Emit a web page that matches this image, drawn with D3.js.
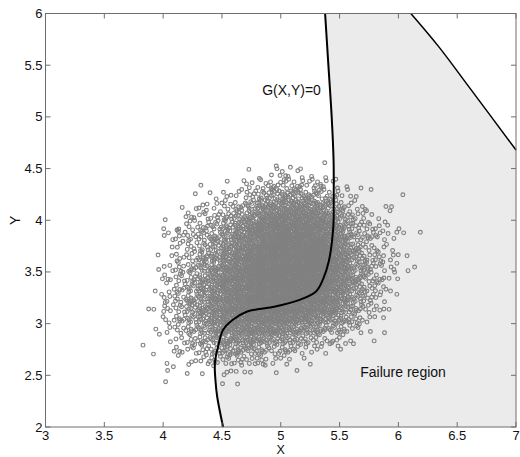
<!DOCTYPE html>
<html lang="en">
<head>
  <meta charset="UTF-8">
  <title>Limit state and Monte Carlo samples</title>
  <script src="https://d3js.org/d3.v7.min.js"></script>
  <style>
    html, body { margin: 0; background: #fff; }
    svg { display: block; font-family: "Liberation Sans", Arial, sans-serif; }
  </style>
</head>
<body>
  <svg id="chart" width="520" height="457"></svg>
  <script>
    // axis ticks
    const xTicks = [3, 3.5, 4, 4.5, 5, 5.5, 6, 6.5, 7];
    const yTicks = [2, 2.5, 3, 3.5, 4, 4.5, 5, 5.5, 6];

    // limit state curve G(X,Y)=0 (top to bottom)
    const limitX = [5.377, 5.405, 5.433, 5.449, 5.45, 5.447, 5.41, 5.36, 5.30, 5.16, 4.93, 4.71, 4.59, 4.51, 4.47, 4.44, 4.445, 4.46, 4.51];
    const limitY = [6.00, 5.50, 5.00, 4.58, 4.20, 3.94, 3.61, 3.43, 3.31, 3.23, 3.16, 3.115, 3.035, 2.94, 2.79, 2.62, 2.45, 2.29, 2.00];

    // upper right boundary of the failure region
    const edgeX = [6.106, 6.346, 6.60, 7.00];
    const edgeY = [6.00, 5.675, 5.29, 4.68];

    // sample cloud: points per 0.1 x 0.1 cell (base 36), rows top -> bottom
    const cellColsX = [3.85, 3.95, 4.05, 4.15, 4.25, 4.35, 4.45, 4.55, 4.65, 4.75, 4.85, 4.95, 5.05,
                       5.15, 5.25, 5.35, 5.45, 5.55, 5.65, 5.75, 5.85, 5.95, 6.05, 6.15, 6.25];
    const cellRowsY = [4.55, 4.45, 4.35, 4.25, 4.15, 4.05, 3.95, 3.85, 3.75, 3.65, 3.55,
                       3.45, 3.35, 3.25, 3.15, 3.05, 2.95, 2.85, 2.75, 2.65, 2.55, 2.45];
    const cellCounts = [
      "0000000000011001000000000",
      "0000000001133311000000000",
      "0000010113566655311000000",
      "00001113368abba8631100100",
      "000113356adgiigda63111000",
      "00113558adiloomjd85311000",
      "0013568aejorttroib6531100",
      "003568adimruzzurle8653110",
      "001358aejotzzzzzme8531000",
      "01156adimrzzzzzzoib653100",
      "01358bejotzzzzzzoib853110",
      "01368bglquzzzzzzmib853000",
      "0136adglquzzzzzulgb651000",
      "0156adimrzzzzztqjea631000",
      "1156adilqtuutrolid8531000",
      "0136adgjmooomlieda6310000",
      "01358beijjjigeda865110000",
      "011368bdeedba865531100000",
      "1113568aaa866533110000000",
      "0011355665533110000000000",
      "0020111331110100000000000",
      "0010000110000000000000000"
    ];
    // where points sit inside a cell (fraction of the cell)
    const slotU = [0.13, 0.62, 0.87, 0.38, 0.05, 0.74, 0.29, 0.51, 0.94, 0.21, 0.68, 0.45, 0.82, 0.09, 0.57, 0.33, 0.99, 0.18, 0.77, 0.42];
    const slotV = [0.71, 0.24, 0.83, 0.47, 0.18, 0.56, 0.92, 0.07, 0.33, 0.38, 0.97, 0.78, 0.12, 0.52, 0.63, 0.15, 0.66, 0.05, 0.41, 0.30];
    const cellSize = 0.1;

    const svg = d3.select("#chart");
    const x = d3.scaleLinear().domain([3, 7]).range([45.5, 516]);
    const y = d3.scaleLinear().domain([2, 6]).range([427, 13.5]);

    const limitPts = limitX.map((v, i) => [v, limitY[i]]);
    const edgePts = edgeX.map((v, i) => [v, edgeY[i]]);
    const line = d3.line().x(d => x(d[0])).y(d => y(d[1])).curve(d3.curveCatmullRom);

    // failure region
    svg.append("path")
      .attr("d", d3.line().x(d => x(d[0])).y(d => y(d[1])).curve(d3.curveLinearClosed)(
        limitPts.concat([[7, 2]], edgePts.slice().reverse())))
      .attr("fill", "#ebebeb");

    // samples
    const pts = [];
    cellCounts.forEach((row, i) => {
      row.split("").forEach((c, j) => {
        const n = parseInt(c, 36);
        const start = (i * 7 + j * 11) % slotU.length;
        for (let k = 0; k < n; k++) {
          const s = (start + k) % slotU.length;
          const pass = Math.floor(k / slotU.length);
          const u = (slotU[s] + pass * 0.5) % 1;
          const v = (slotV[s] + pass * 0.37) % 1;
          pts.push([cellColsX[j] - cellSize / 2 + cellSize * u,
                    cellRowsY[i] - cellSize / 2 + cellSize * v]);
        }
      });
    });

    svg.append("g").selectAll("circle")
      .data(pts)
      .enter().append("circle")
      .attr("cx", d => x(d[0]))
      .attr("cy", d => y(d[1]))
      .attr("r", 1.9)
      .attr("fill", "none")
      .attr("stroke", "#808080")
      .attr("stroke-width", 1.15);

    // curves
    svg.append("path")
      .attr("d", line(limitPts))
      .attr("fill", "none")
      .attr("stroke", "#000")
      .attr("stroke-width", 2);

    svg.append("path")
      .attr("d", line(edgePts))
      .attr("fill", "none")
      .attr("stroke", "#000")
      .attr("stroke-width", 1.5);

    // box and inward ticks
    const axisColor = "#6e6e6e";
    const tickLen = 5;
    svg.append("rect")
      .attr("x", x(3)).attr("y", y(6))
      .attr("width", x(7) - x(3)).attr("height", y(2) - y(6))
      .attr("fill", "none").attr("stroke", axisColor).attr("stroke-width", 1);

    const ticks = svg.append("g").attr("stroke", axisColor).attr("stroke-width", 1);
    xTicks.forEach(t => {
      ticks.append("line").attr("x1", x(t)).attr("x2", x(t)).attr("y1", y(2)).attr("y2", y(2) - tickLen);
      ticks.append("line").attr("x1", x(t)).attr("x2", x(t)).attr("y1", y(6)).attr("y2", y(6) + tickLen);
    });
    yTicks.forEach(t => {
      ticks.append("line").attr("x1", x(3)).attr("x2", x(3) + tickLen).attr("y1", y(t)).attr("y2", y(t));
      ticks.append("line").attr("x1", x(7)).attr("x2", x(7) - tickLen).attr("y1", y(t)).attr("y2", y(t));
    });

    svg.append("g").selectAll("text")
      .data(xTicks)
      .enter().append("text")
      .attr("x", d => x(d))
      .attr("y", y(2) + 12.5)
      .attr("text-anchor", "middle")
      .attr("font-size", 13)
      .attr("fill", "#111")
      .text(d => d);

    svg.append("g").selectAll("text")
      .data(yTicks)
      .enter().append("text")
      .attr("x", x(3) - 3)
      .attr("y", d => y(d))
      .attr("dy", "0.35em")
      .attr("text-anchor", "end")
      .attr("font-size", 13)
      .attr("fill", "#111")
      .text(d => d);

    // axis labels
    svg.append("text")
      .attr("x", x(5)).attr("y", y(2) + 26.5)
      .attr("text-anchor", "middle").attr("font-size", 12.5).attr("fill", "#111")
      .text("X");
    svg.append("text")
      .attr("transform", `translate(${x(3) - 30},${y(4)}) rotate(-90)`)
      .attr("text-anchor", "middle").attr("dy", "0.35em").attr("font-size", 14).attr("fill", "#111")
      .text("Y");

    // annotations
    svg.append("text")
      .attr("x", x(4.842)).attr("y", y(5.21))
      .attr("font-size", 14).attr("fill", "#111")
      .text("G(X,Y)=0");
    svg.append("text")
      .attr("x", x(5.676)).attr("y", y(2.488))
      .attr("font-size", 14).attr("fill", "#111")
      .text("Failure region");
  </script>
</body>
</html>
